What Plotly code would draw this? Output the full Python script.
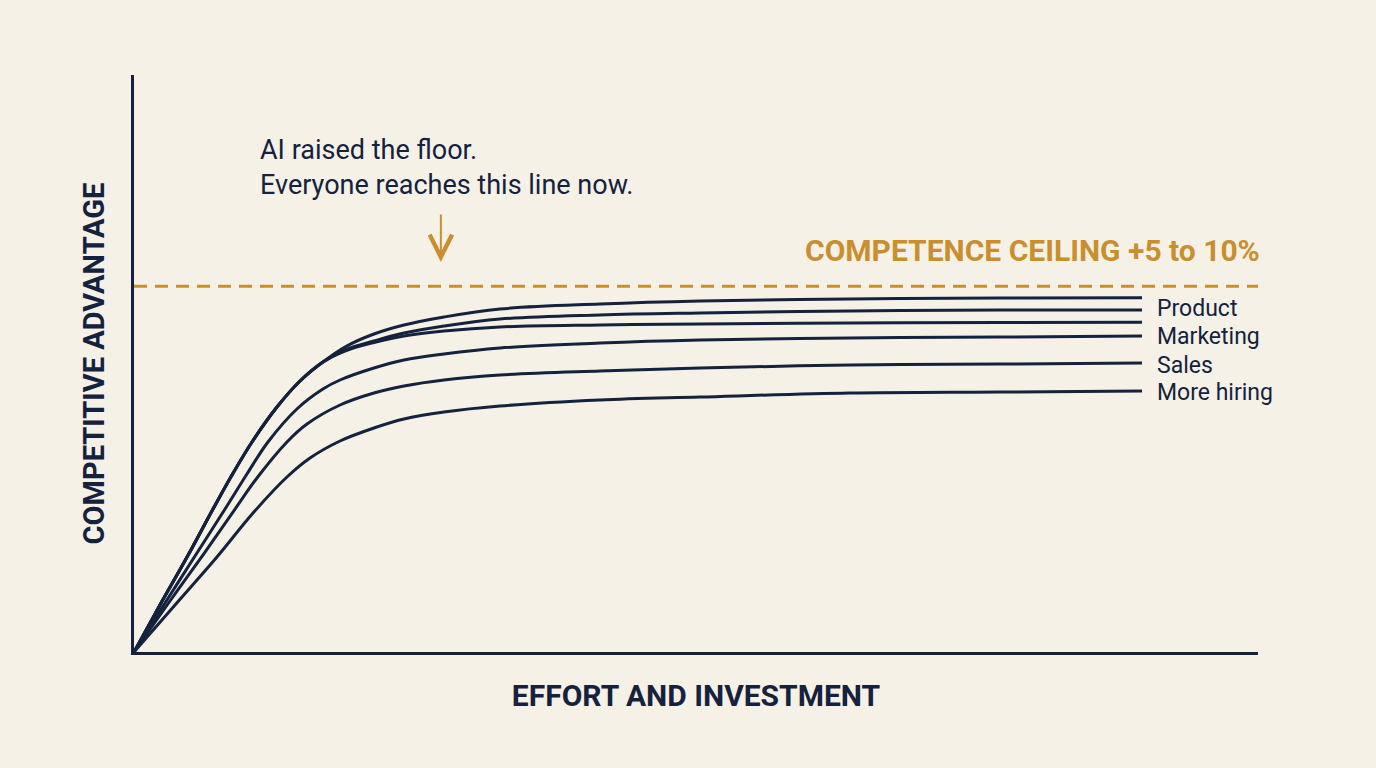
import plotly.graph_objects as go

# ---- data (x = effort, y = advantage, both on 0-100 scales) ----
# the three top curves share their rise, then split
x_top = [0, 2.31, 4.72, 7.03, 8.72, 10.50, 12.72, 14.77, 16.81, 18.77, 21.35, 24.02, 27.58, 32.56, 41.46, 50.36, 63.70, 77.05, 89.68]
curve_1 = [0, 8.15, 16.46, 24.78, 30.68, 36.40, 42.46, 46.97, 50.26, 52.86, 55.11, 56.67, 58.06, 59.45, 60.31, 60.83, 61.18, 61.35, 61.40]
curve_2 = [0, 8.15, 16.46, 24.78, 30.68, 36.40, 42.46, 46.97, 50.26, 52.34, 53.90, 55.29, 56.50, 57.71, 58.41, 58.75, 59.10, 59.27, 59.27]
curve_3 = [0, 8.15, 16.46, 24.78, 30.68, 36.40, 42.46, 46.97, 50.26, 52.17, 53.64, 54.77, 55.63, 56.33, 56.67, 56.85, 57.02, 57.11, 57.14]

x_4 = [0, 2.76, 5.60, 8.27, 10.05, 11.92, 14.59, 16.81, 18.33, 21.35, 24.02, 27.58, 32.56, 41.46, 50.36, 63.70, 77.05, 89.68]
curve_4 = [0, 8.49, 17.16, 25.30, 30.85, 36.40, 42.29, 45.58, 47.14, 49.22, 50.61, 51.65, 52.69, 53.55, 54.07, 54.42, 54.59, 54.77]

x_5 = [0, 3.20, 6.32, 8.99, 10.94, 13.61, 15.39, 18.33, 21.35, 24.02, 27.58, 32.56, 41.46, 50.36, 63.70, 77.05, 89.68]
curve_5 = [0, 8.84, 17.33, 24.78, 30.16, 36.40, 39.51, 42.81, 44.89, 46.10, 47.14, 48.01, 48.70, 49.22, 49.74, 49.91, 50.09]

x_6 = [0, 3.65, 7.38, 10.59, 13.61, 15.66, 18.33, 21.35, 24.02, 27.58, 32.56, 41.46, 50.36, 63.70, 77.05, 89.68]
curve_6 = [0, 8.15, 16.46, 24.09, 30.33, 33.62, 36.57, 38.82, 40.38, 41.59, 42.63, 43.67, 44.19, 44.89, 45.06, 45.23]

series = [(x_top, curve_1), (x_top, curve_2), (x_top, curve_3),
          (x_4, curve_4), (x_5, curve_5), (x_6, curve_6)]

label_names = ["Product", "Marketing", "Sales", "More hiring"]
label_y = [59.6, 54.6, 49.7, 44.9]
label_x = 90.8

ceiling_y = 63.4
ceiling_label = "COMPETENCE CEILING +5 to 10%"
ceiling_label_y = 69.5

note_text = "AI raised the floor.<br>Everyone reaches this line now."
note_x = 11.0
note_y = 84.0
arrow_x = 27.3
arrow_tail_y = 76.1
arrow_head_y = 67.6

x_title = "EFFORT AND INVESTMENT"
y_title = "COMPETITIVE ADVANTAGE"

# ---- style ----
NAVY = "#14223d"
ORANGE = "#c98f2e"
BG = "#f6f1e7"

fig = go.Figure()

fig.add_trace(go.Scatter(
    x=[0, 100], y=[ceiling_y, ceiling_y], mode="lines",
    line=dict(color=ORANGE, width=3, dash="13px,8px"),
    hoverinfo="skip", showlegend=False,
))

for xs, ys in series:
    fig.add_trace(go.Scatter(
        x=xs, y=ys, mode="lines",
        line=dict(color=NAVY, width=3, shape="spline", smoothing=1.0),
        hoverinfo="skip", showlegend=False,
    ))

annotations = []
for name, yy in zip(label_names, label_y):
    annotations.append(dict(
        x=label_x, y=yy, xref="x", yref="y", text=name, showarrow=False,
        xanchor="left", yanchor="middle",
        font=dict(family="Roboto", size=23, color=NAVY),
    ))

annotations.append(dict(
    x=100, y=ceiling_label_y, xref="x", yref="y", text=ceiling_label,
    showarrow=False, xanchor="right", yanchor="middle", xshift=4,
    font=dict(family="Roboto", size=30, color=ORANGE, weight="bold"),
))

annotations.append(dict(
    x=note_x, y=note_y, xref="x", yref="y", text=note_text,
    showarrow=False, xanchor="left", yanchor="middle", align="left",
    font=dict(family="Roboto", size=27, color=NAVY),
))

annotations.append(dict(
    x=arrow_x, y=arrow_head_y, ax=arrow_x, ay=arrow_tail_y,
    xref="x", yref="y", axref="x", ayref="y", text="",
    showarrow=True, arrowhead=5, arrowsize=2.2, arrowwidth=2,
    arrowcolor=ORANGE, standoff=0, startstandoff=0,
))

fig.update_layout(
    width=1376, height=768,
    margin=dict(l=134, r=118, t=75, b=116),
    paper_bgcolor=BG, plot_bgcolor=BG,
    annotations=annotations,
    xaxis=dict(
        range=[0, 100], showgrid=False, zeroline=False, showticklabels=False,
        ticks="", showline=True, linecolor=NAVY, linewidth=3,
        title=dict(text=x_title, standoff=31,
                   font=dict(family="Roboto", size=30, color=NAVY, weight="bold")),
    ),
    yaxis=dict(
        range=[0, 100], showgrid=False, zeroline=False, showticklabels=False,
        ticks="", showline=True, linecolor=NAVY, linewidth=3,
        title=dict(text=y_title, standoff=18,
                   font=dict(family="Roboto", size=29, color=NAVY, weight="bold")),
    ),
)

fig.write_html(
    "out.html",
    config={"displayModeBar": False},
    post_script="document.body.style.margin='0';document.body.style.background='%s';" % BG,
)
